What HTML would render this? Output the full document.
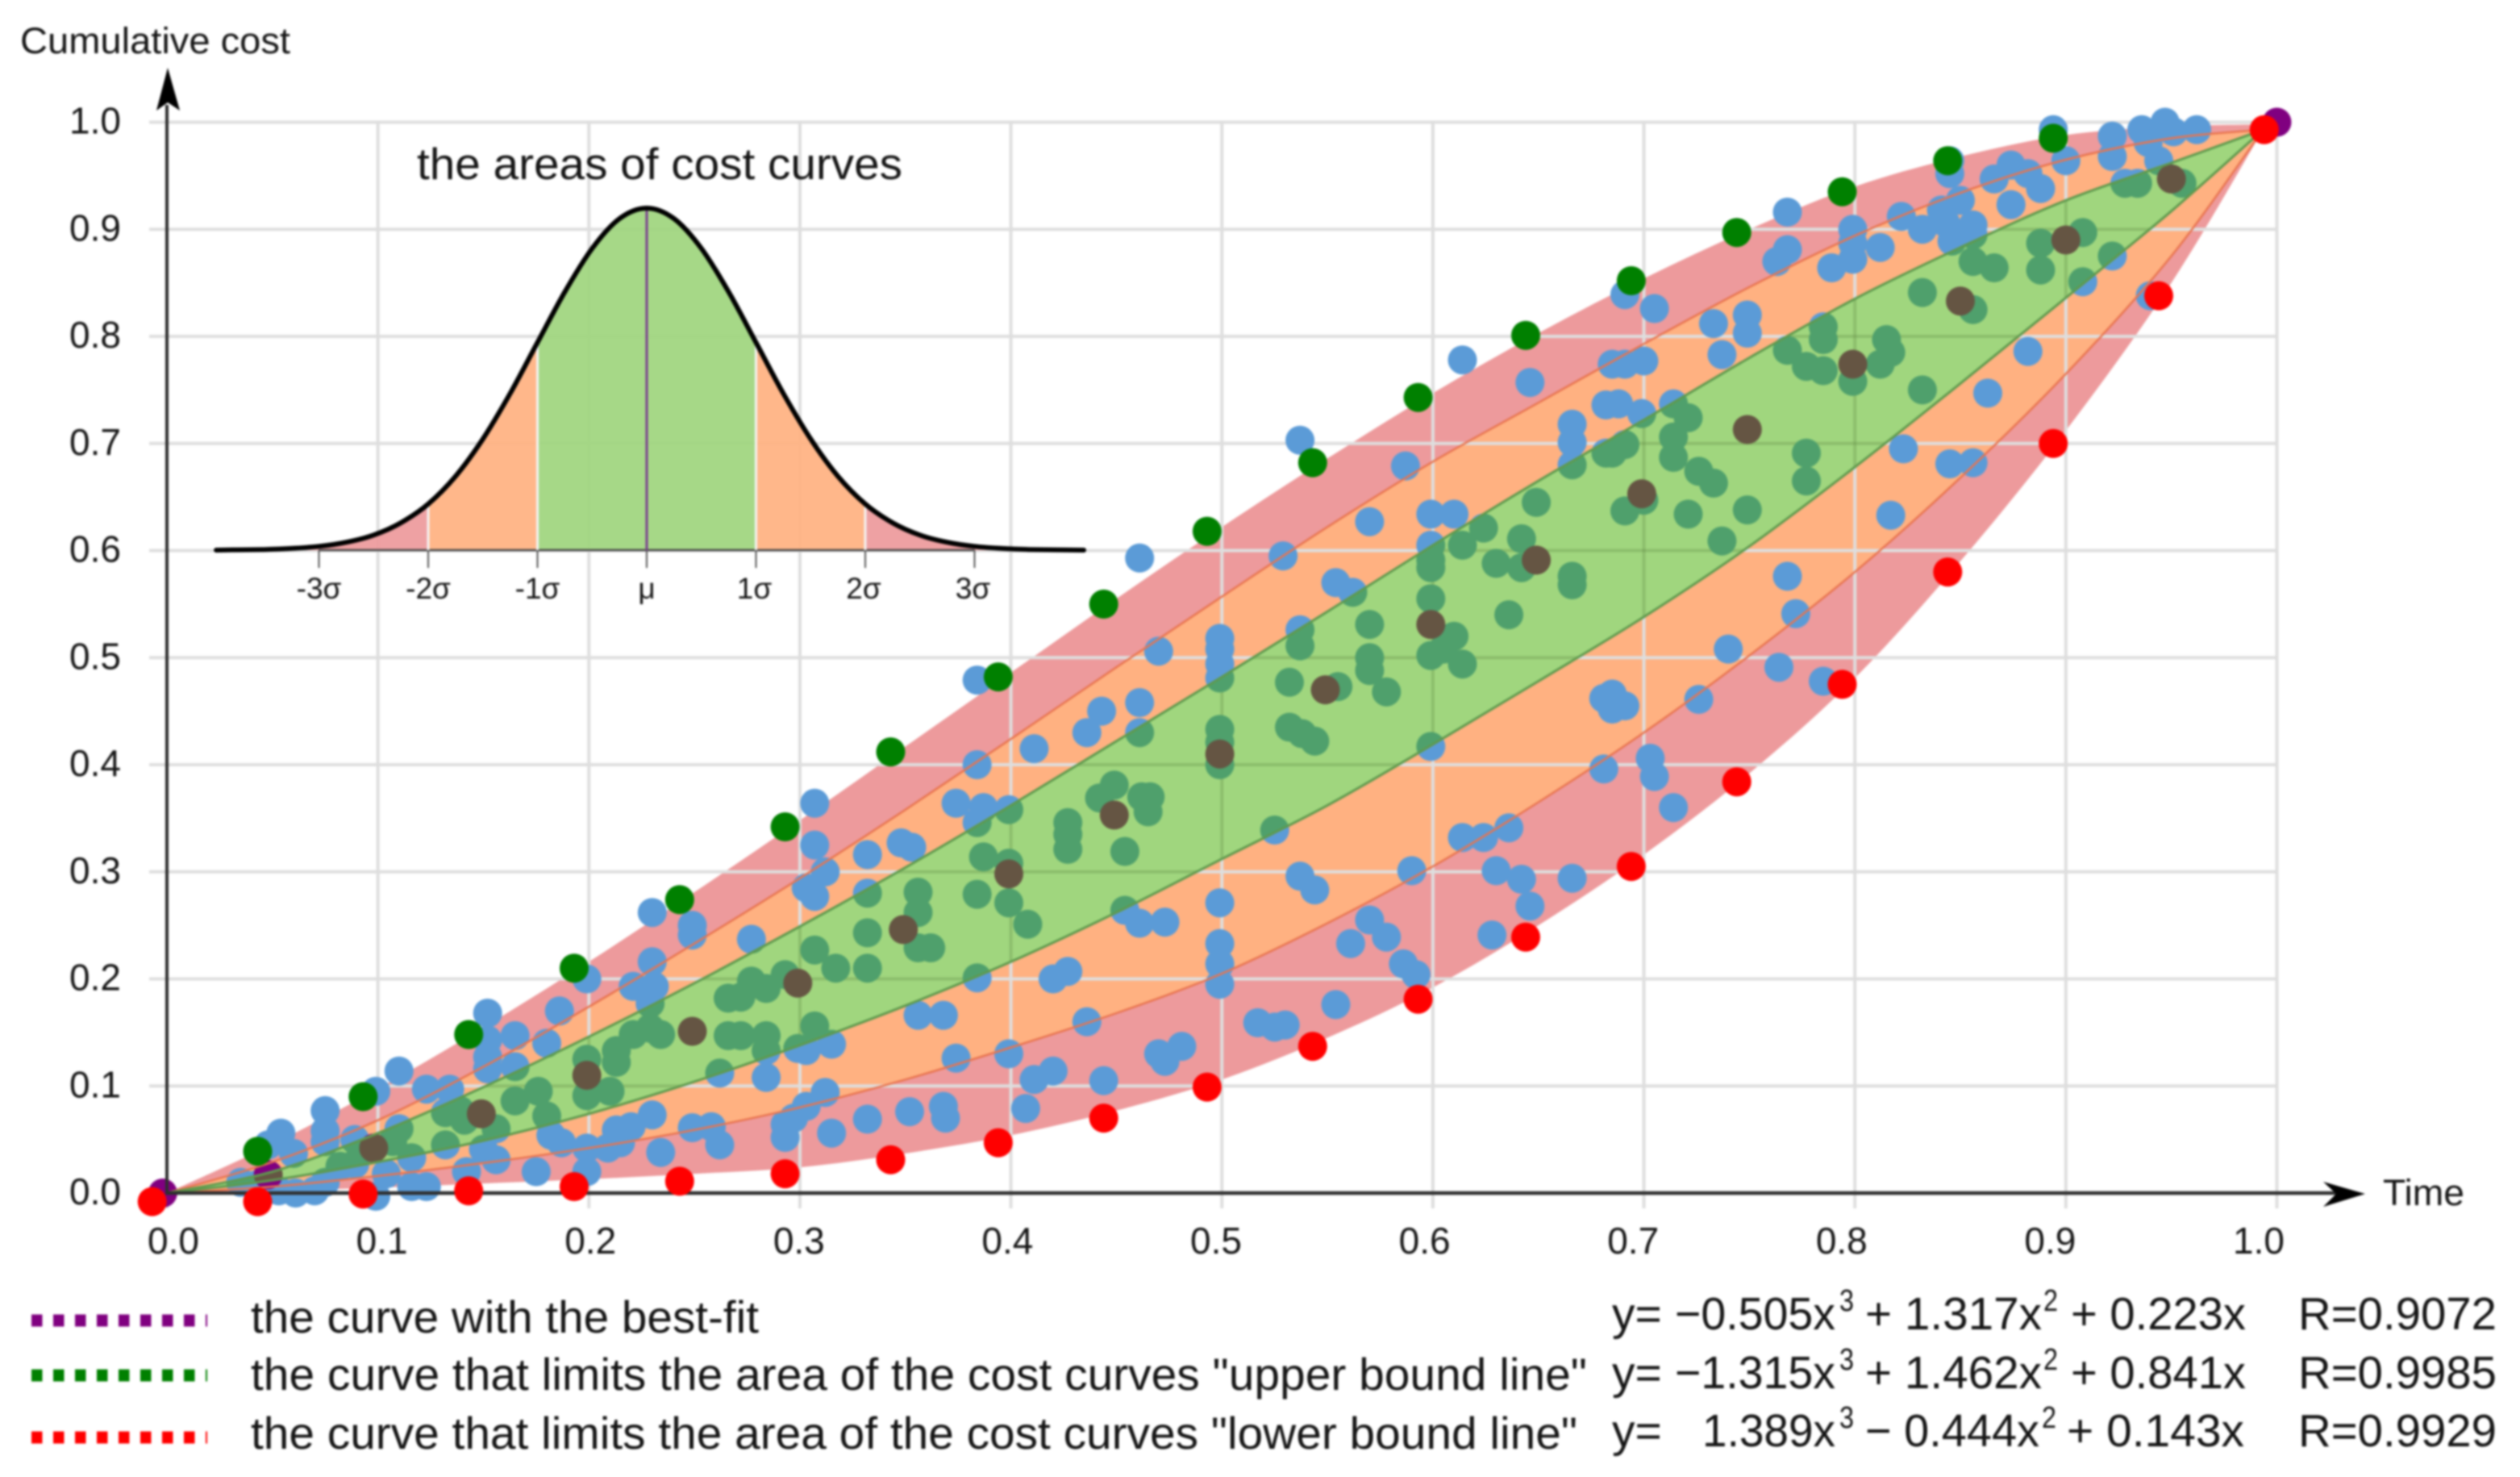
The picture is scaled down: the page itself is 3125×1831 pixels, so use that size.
<!DOCTYPE html>
<html lang="en">
<head>
<meta charset="utf-8">
<title>Cumulative cost curves</title>
<style>
html,body{margin:0;padding:0;background:#fff;}
body{width:3125px;height:1831px;overflow:hidden;}
svg{display:block;filter:blur(1.2px);}
text{font-family:"Liberation Sans",sans-serif;fill:#151515;}
</style>
</head>
<body>
<svg id="chart" xmlns="http://www.w3.org/2000/svg" width="3125" height="1831" viewBox="0 0 3125 1831">
  <defs>
    <clipPath id="green-clip"><path id="green-clip-path" d=""></path></clipPath>
  </defs>
  <rect x="0" y="0" width="3125" height="1831" fill="#ffffff"></rect>
  <g id="bands-lower"></g>
  <g id="grid"></g>
  <g id="samples"></g>
  <g id="green-band"></g>
  <g id="green-inner" clip-path="url(#green-clip)"></g>
  <g id="band-lines"></g>
  <g id="inset"></g>
  <g id="axes">
    <line x1="207" y1="130" x2="207" y2="1481" stroke="#2f2f2f" stroke-width="4"></line>
    <line x1="205" y1="1479" x2="2900" y2="1479" stroke="#2f2f2f" stroke-width="4.5"></line>
    <polygon points="208,84 223,137 208,127 194,137" fill="#000"></polygon>
    <polygon points="2933,1480 2881,1465 2897,1480 2881,1496" fill="#000"></polygon>
    <text x="25" y="66" font-size="45" textLength="335" lengthAdjust="spacingAndGlyphs">Cumulative cost</text>
    <text x="2955" y="1494" font-size="45" textLength="101" lengthAdjust="spacingAndGlyphs">Time</text>
  </g>
  <g id="tick-labels"></g>
  <g id="bound-dots"></g>
  <g id="legend">
    <line x1="39" y1="1637" x2="257" y2="1637" stroke="#800080" stroke-width="15" stroke-dasharray="13.5 13.5"></line>
    <line x1="39" y1="1705" x2="257" y2="1705" stroke="#008000" stroke-width="15" stroke-dasharray="13.5 13.5"></line>
    <line x1="39" y1="1782" x2="257" y2="1782" stroke="#ff0000" stroke-width="15" stroke-dasharray="13.5 13.5"></line>
    <text x="311" y="1652" font-size="56" textLength="630" lengthAdjust="spacingAndGlyphs">the curve with the best-fit</text>
    <text x="311" y="1723" font-size="56" textLength="1657" lengthAdjust="spacingAndGlyphs">the curve that limits the area of the cost curves "upper bound line"</text>
    <text x="311" y="1796" font-size="56" textLength="1645" lengthAdjust="spacingAndGlyphs">the curve that limits the area of the cost curves "lower bound line"</text>

    <g font-size="57">
      <text x="1999" y="1648">y=</text>
      <text x="2077" y="1648" textLength="199" lengthAdjust="spacingAndGlyphs">−0.505x</text>
      <text x="2281" y="1625" font-size="38" textLength="18" lengthAdjust="spacingAndGlyphs">3</text>
      <text x="2313" y="1648" textLength="219" lengthAdjust="spacingAndGlyphs">+ 1.317x</text>
      <text x="2534" y="1625" font-size="38" textLength="18" lengthAdjust="spacingAndGlyphs">2</text>
      <text x="2568" y="1648" textLength="217" lengthAdjust="spacingAndGlyphs">+ 0.223x</text>
      <text x="2850" y="1648" textLength="246" lengthAdjust="spacingAndGlyphs">R=0.9072</text>
    </g>
    <g font-size="57">
      <text x="1999" y="1721">y=</text>
      <text x="2077" y="1721" textLength="199" lengthAdjust="spacingAndGlyphs">−1.315x</text>
      <text x="2281" y="1698" font-size="38" textLength="18" lengthAdjust="spacingAndGlyphs">3</text>
      <text x="2313" y="1721" textLength="219" lengthAdjust="spacingAndGlyphs">+ 1.462x</text>
      <text x="2534" y="1698" font-size="38" textLength="18" lengthAdjust="spacingAndGlyphs">2</text>
      <text x="2568" y="1721" textLength="217" lengthAdjust="spacingAndGlyphs">+ 0.841x</text>
      <text x="2850" y="1721" textLength="246" lengthAdjust="spacingAndGlyphs">R=0.9985</text>
    </g>
    <g font-size="57">
      <text x="1999" y="1793">y=</text>
      <text x="2111" y="1793" textLength="165" lengthAdjust="spacingAndGlyphs">1.389x</text>
      <text x="2281" y="1770" font-size="38" textLength="18" lengthAdjust="spacingAndGlyphs">3</text>
      <text x="2313" y="1793" textLength="216" lengthAdjust="spacingAndGlyphs">− 0.444x</text>
      <text x="2532" y="1770" font-size="38" textLength="18" lengthAdjust="spacingAndGlyphs">2</text>
      <text x="2563" y="1793" textLength="220" lengthAdjust="spacingAndGlyphs">+ 0.143x</text>
      <text x="2850" y="1793" textLength="246" lengthAdjust="spacingAndGlyphs">R=0.9929</text>
    </g>
  </g>
</svg>
<script>
const xTicks = [0, 0.1, 0.2, 0.3, 0.4, 0.5, 0.6, 0.7, 0.8, 0.9, 1];
const yTicks = [0, 0.1, 0.2, 0.3, 0.4, 0.5, 0.6, 0.7, 0.8, 0.9, 1];

const bandTime = [0,.05,.1,.15,.2,.25,.3,.35,.4,.45,.5,.55,.6,.65,.7,.75,.8,.85,.9,.95,.9935];
const upperEdge = [0,.0455,.0974,.1547,.216,.281,.348,.417,.486,.555,.622,.686,.747,.803,.854,.9,.94,.968,.988,.996,.998];
const orangeTopEdge = [0,.029,.068,.118,.174,.233,.294,.358,.424,.491,.557,.622,.683,.738,.793,.846,.894,.934,.965,.985,.993];
const greenTopEdge = [0,.02,.056,.099,.146,.196,.249,.304,.362,.422,.482,.543,.605,.665,.722,.78,.835,.883,.927,.962,.993];
const greenBottomEdge = [0,.012,.029,.049,.074,.104,.138,.175,.216,.262,.312,.362,.419,.478,.538,.604,.678,.756,.836,.917,.993];
const orangeBottomEdge = [0,.006,.016,.028,.042,.059,.08,.106,.136,.168,.205,.252,.305,.365,.43,.502,.58,.668,.765,.875,.993];
const lowerEdge = [0,.002,.005,.009,.013,.018,.024,.037,.054,.077,.106,.145,.192,.25,.316,.392,.481,.59,.712,.85,.993];

const sampleCurves = [
[.230,.262],[.249,.250],[.249,.241],[.277,.237],[.230,.216],[.221,.193],[.231,.193],[.199,.200],[.186,.170],[.180,.140],
[.165,.147],[.152,.168],[.152,.143],[.152,.127],[.152,.116],[.165,.118],[.110,.114],[.099,.095],[.123,.097],[.134,.097],
[.075,.077],[.075,.058],[.054,.056],[.048,.045],[.060,.037],[.089,.050],[.075,.048],[.199,.125],[.213,.133],[.213,.122],
[.221,.148],[.229,.154],[.234,.148],[.229,.177],[.266,.182],[.272,.183],[.277,.198],[.284,.191],[.293,.204],[.266,.147],
[.272,.147],[.284,.147],[.284,.133],[.165,.086],[.176,.095],[.180,.072],[.199,.091],[.210,.095],[.132,.075],[.139,.077],
[.141,.068],[.156,.060],[.132,.045],[.110,.060],[.107,.048],[.262,.112],[.284,.108],[.299,.135],[.230,.073],[.220,.062],
[.213,.059],[.215,.047],[.209,.042],[.199,.042],[.187,.047],[.182,.054],[.249,.061],[.258,.062],[.262,.045],[.234,.038],
[.199,.020],[.175,.020],[.156,.031],[.150,.041],[.142,.020],[.123,.006],[.116,.006],[.116,.033],[.104,.018],[.099,-.003],
[.089,.027],[.082,.025],[.075,.010],[.070,.002],[.061,0],[.053,.002],[.035,.010],[.043,.008],[.293,.052],[.297,.070],
[.303,.081],[.293,.064],[.307,.364],[.307,.325],[.312,.300],[.307,.277],[.303,.285],[.332,.316],[.348,.327],[.353,.323],
[.332,.280],[.356,.281],[.356,.262],[.332,.243],[.332,.210],[.307,.227],[.317,.210],[.356,.229],[.362,.229],[.384,.279],
[.399,.271],[.399,.308],[.387,.314],[.408,.251],[.384,.346],[.399,.358],[.387,.360],[.374,.364],[.384,.400],[.411,.415],
[.384,.479],[.436,.430],[.443,.450],[.461,.458],[.461,.430],[.470,.506],[.499,.508],[.499,.494],[.499,.481],[.499,.433],
[.499,.421],[.499,.400],[.449,.381],[.442,.369],[.462,.370],[.466,.370],[.465,.356],[.427,.346],[.427,.335],[.427,.321],
[.454,.319],[.525,.339],[.532,.477],[.555,.473],[.578,.468],[.570,.500],[.570,.488],[.599,.502],[.614,.494],[.605,.508],
[.537,.511],[.532,.435],[.538,.429],[.544,.422],[.599,.417],[.681,.462],[.685,.452],[.681,.396],[.454,.264],[.461,.252],
[.473,.253],[.499,.271],[.499,.233],[.499,.214],[.499,.195],[.537,.296],[.544,.283],[.590,.301],[.614,.332],[.624,.332],
[.636,.341],[.630,.301],[.642,.293],[.646,.268],[.666,.294],[.628,.241],[.570,.255],[.578,.239],[.561,.233],[.586,.214],
[.592,.204],[.554,.176],[.517,.159],[.525,.155],[.530,.157],[.384,.201],[.420,.200],[.427,.207],[.356,.166],[.368,.166],
[.307,.156],[.303,.133],[.315,.139],[.436,.160],[.374,.126],[.399,.130],[.420,.114],[.411,.106],[.312,.094],[.444,.105],
[.470,.130],[.481,.137],[.473,.123],[.352,.076],[.368,.081],[.369,.070],[.332,.069],[.315,.056],[.407,.079],[.461,.593],
[.537,.703],[.587,.679],[.614,.778],[.646,.757],[.570,.627],[.529,.595],[.599,.634],[.610,.634],[.599,.605],[.554,.570],
[.562,.561],[.499,.518],[.537,.526],[.570,.531],[.636,.540],[.599,.591],[.599,.584],[.599,.555],[.610,.520],[.624,.621],
[.614,.605],[.630,.588],[.642,.611],[.642,.584],[.649,.645],[.666,.718],[.666,.701],[.666,.680],[.666,.576],[.666,.568],
[.682,.736],[.682,.691],[.685,.774],[.691,.839],[.705,.826],[.733,.812],[.749,.820],[.749,.803],[.737,.783],[.691,.774],
[.700,.777],[.688,.737],[.699,.728],[.714,.737],[.721,.724],[.691,.699],[.714,.706],[.714,.687],[.685,.691],[.726,.674],
[.733,.663],[.777,.691],[.777,.665],[.691,.637],[.700,.647],[.721,.634],[.749,.638],[.737,.609],[.768,.787],[.785,.809],
[.785,.797],[.768,.916],[.768,.881],[.763,.870],[.799,.900],[.799,.887],[.789,.864],[.799,.872],[.812,.883],[.822,.912],
[.832,.900],[.841,.918],[.850,.927],[.843,.906],[.856,.904],[.846,.889],[.856,.895],[.845,.964],[.845,.952],[.866,.947],
[.874,.960],[.882,.952],[.888,.938],[.874,.923],[.900,.964],[.894,.993],[.922,.987],[.922,.968],[.936,.993],[.947,1.0],
[.951,.991],[.962,.993],[.944,.964],[.939,.981],[.928,.943],[.934,.943],[.955,.943],[.908,.897],[.888,.887],[.888,.862],
[.866,.864],[.856,.870],[.908,.851],[.922,.875],[.832,.841],[.856,.825],[.777,.772],[.785,.768],[.799,.758],[.812,.774],
[.815,.797],[.817,.785],[.832,.750],[.882,.786],[.863,.747],[.823,.695],[.845,.681],[.856,.682],[.817,.633],[.768,.576],
[.772,.541],[.740,.508],[.764,.491],[.785,.478],[.726,.461],[.685,.466],[.691,.455],[.940,.838],[.703,.406],[.705,.389],
[.714,.360]
];

const bestFitPoints = [
[-.002,0],[.048,.017],[.098,.042],[.149,.074],[.199,.110],[.249,.151],[.299,.196],[.349,.246],[.399,.298],[.449,.353],
[.499,.410],[.549,.470],[.599,.531],[.649,.591],[.699,.653],[.749,.713],[.799,.774],[.850,.833],[.900,.890],[.950,.947],[1.0,1.0]
];
const upperPoints = [
[.043,.039],[.093,.090],[.143,.148],[.193,.210],[.243,.274],[.293,.342],[.343,.412],[.394,.482],[.444,.550],[.493,.618],
[.543,.682],[.593,.743],[.644,.801],[.694,.852],[.744,.897],[.794,.935],[.844,.964],[.894,.985]
];
const lowerPoints = [
[-.007,-.008],[.043,-.008],[.093,-.001],[.143,.002],[.193,.006],[.243,.011],[.293,.018],[.343,.031],[.394,.047],[.444,.070],
[.493,.099],[.543,.137],[.593,.181],[.644,.239],[.694,.305],[.744,.384],[.794,.475],[.844,.580],[.894,.700],[.944,.838],[.994,.993]
];

const sigmaPos = [-3.94,-3.75,-3.5,-3.25,-3,-2.75,-2.5,-2.25,-2,-1.75,-1.5,-1.25,-1,-.75,-.5,-.25,0,.25,.5,.75,1,1.25,1.5,1.75,2,2.25,2.5,2.75,3,3.25,3.5,3.75,4];
const sigmaDensity = [0,.001,.002,.005,.011,.023,.044,.08,.135,.216,.325,.458,.607,.755,.882,.969,1,.969,.882,.755,.607,.458,.325,.216,.135,.08,.044,.023,.011,.005,.002,.001,0];
const sigmaTicks = [-3,-2,-1,0,1,2,3];
const sigmaLabels = ["-3σ","-2σ","-1σ","μ","1σ","2σ","3σ"];

const NS = "http://www.w3.org/2000/svg";
function sx(v){ return 207 + 2616.5 * v; }
function sy(v){ return 1479 - 1327.5 * v; }
function labelX(v){ return 215 + 2586 * v; }
function insetX(z){ return 802 + 135.5 * z; }
function insetY(d){ return 682 - 424 * d; }

function make(tag, attrs, parent){
  const el = document.createElementNS(NS, tag);
  for (const k in attrs) el.setAttribute(k, attrs[k]);
  parent.appendChild(el);
  return el;
}
function splineSegments(pts){
  let d = "";
  for (let i=0;i<pts.length-1;i++){
    const p0=pts[Math.max(i-1,0)],p1=pts[i],p2=pts[i+1],p3=pts[Math.min(i+2,pts.length-1)];
    const c1x=p1[0]+(p2[0]-p0[0])/6,c1y=p1[1]+(p2[1]-p0[1])/6,c2x=p2[0]-(p3[0]-p1[0])/6,c2y=p2[1]-(p3[1]-p1[1])/6;
    d+=" C"+c1x.toFixed(1)+" "+c1y.toFixed(1)+" "+c2x.toFixed(1)+" "+c2y.toFixed(1)+" "+p2[0].toFixed(1)+" "+p2[1].toFixed(1);
  }
  return d;
}
function edgePoints(edge){
  return edge.map((v,i)=>[sx(bandTime[i]),sy(v)]);
}
function edgePath(edge){
  const pts = edgePoints(edge);
  return "M"+pts[0][0].toFixed(1)+" "+pts[0][1].toFixed(1)+splineSegments(pts);
}
function areaPath(top,bottom){
  const rev = edgePoints(bottom).reverse();
  return edgePath(top)+" L"+rev[0][0].toFixed(1)+" "+rev[0][1].toFixed(1)+splineSegments(rev)+" Z";
}
function drawDots(points, fill, name, parent){
  points.forEach(p=>{
    const c = make("circle",{cx:sx(p[0]).toFixed(1),cy:sy(p[1]).toFixed(1),r:18,fill:fill},parent);
    
    
  });
}
function drawGrid(parent, color, width, name){
  yTicks.forEach(v=>{
    const l = make("line",{x1:185,x2:sx(1),y1:sy(v),y2:sy(v),stroke:color,"stroke-width":width},parent);
    
    
  });
  xTicks.forEach(v=>{
    const l = make("line",{x1:sx(v),x2:sx(v),y1:sy(1),y2:1498,stroke:color,"stroke-width":width},parent);
    
    
  });
}

const lowerG = document.getElementById("bands-lower");
const redBand = make("path",{d:areaPath(upperEdge,lowerEdge),fill:"#ed9a9c"},lowerG);


const orangeBand = make("path",{d:areaPath(orangeTopEdge,orangeBottomEdge),fill:"#ffb181"},lowerG);



drawGrid(document.getElementById("grid"), "#dedede", 4, "gridline");

const samplesG = document.getElementById("samples");
drawDots(sampleCurves, "#5b9bd7", "cost-curve-sample", samplesG);
drawDots(bestFitPoints, "#800080", "best-fit-point", samplesG);

const greenPath = areaPath(greenTopEdge,greenBottomEdge);
document.getElementById("green-clip-path").setAttribute("d", greenPath);
const greenBand = make("path",{d:greenPath,fill:"#a0d67e"},document.getElementById("green-band"));



const innerG = document.getElementById("green-inner");
drawGrid(innerG, "rgba(90,130,60,0.28)", 4, "gridline-through-band");
drawDots(sampleCurves, "#4fa06c", "cost-curve-sample-in-band", innerG);
drawDots(bestFitPoints, "#655543", "best-fit-point-in-band", innerG);

const linesG = document.getElementById("band-lines");
[[orangeTopEdge,"#e8744f",2.5,"orange-top-line"],[orangeBottomEdge,"#e8744f",2.5,"orange-bottom-line"],[greenTopEdge,"#5f9a4e",3,"green-top-line"],[greenBottomEdge,"#5f9a4e",3,"green-bottom-line"]].forEach(s=>{
  const p = make("path",{d:edgePath(s[0]),fill:"none",stroke:s[1],"stroke-width":s[2]},linesG);
  
  
});

/* inset */
const insetG = document.getElementById("inset");
function smoothCurve(from,to){
  const pts = [];
  sigmaPos.forEach((z,i)=>{ if (z>=from && z<=to) pts.push([insetX(z),insetY(sigmaDensity[i])]); });
  return "M"+pts[0][0].toFixed(1)+" "+pts[0][1].toFixed(1)+splineSegments(pts);
}
[[-3.25,-2,"#ed9a9c","inset-area-left-tail"],[-2,-1,"#ffb181","inset-area-left-orange"],[-1,1,"#9fd57e","inset-area-center"],[1,2,"#ffb181","inset-area-right-orange"],[2,3.25,"#ed9a9c","inset-area-right-tail"]].forEach(s=>{
  const d = smoothCurve(s[0],s[1])+" L"+insetX(s[1])+" "+insetY(0)+" L"+insetX(s[0])+" "+insetY(0)+" Z";
  const a = make("path",{d:d,fill:s[2],"fill-opacity":0.93},insetG);
  
  
});
const insetBase = make("line",{x1:insetX(-3),x2:insetX(3),y1:insetY(0),y2:insetY(0),stroke:"#444","stroke-width":2.5},insetG);


sigmaTicks.forEach((z,i)=>{
  const di = sigmaPos.indexOf(z);
  if (Math.abs(z)<3){
    const col = z===0 ? "#7b3f8f" : "#f4f4f4";
    const m = make("line",{x1:insetX(z),x2:insetX(z),y1:insetY(sigmaDensity[di]),y2:insetY(0),stroke:col,"stroke-width":3},insetG);
    
    
  }
  const t = make("line",{x1:insetX(z),x2:insetX(z),y1:insetY(0),y2:704,stroke:"#555","stroke-width":2},insetG);
  
  
  const lb = make("text",{x:insetX(z)-(z>0?2:0),y:742,"font-size":37,"text-anchor":"middle"},insetG);
  lb.textContent = sigmaLabels[i];
  
  
});
const insetCurve = make("path",{d:smoothCurve(-4,4),fill:"none",stroke:"#000","stroke-width":6,"stroke-linecap":"round"},insetG);


const insetTitle = make("text",{x:517,y:222,"font-size":55,textLength:602,lengthAdjust:"spacingAndGlyphs"},insetG);
insetTitle.textContent = "the areas of cost curves";



/* tick labels */
const tickG = document.getElementById("tick-labels");
yTicks.forEach(v=>{
  const t = make("text",{x:86,y:sy(v)+14,"font-size":46},tickG);
  t.textContent = v.toFixed(1);
  
  
});
xTicks.forEach(v=>{
  const t = make("text",{x:labelX(v),y:1554,"font-size":46,"text-anchor":"middle"},tickG);
  t.textContent = v.toFixed(1);
  
  
});

/* bound dots */
const boundG = document.getElementById("bound-dots");
drawDots(upperPoints, "#008000", "upper-bound-point", boundG);
drawDots(lowerPoints, "#ff0000", "lower-bound-point", boundG);
</script>
</body>
</html>
